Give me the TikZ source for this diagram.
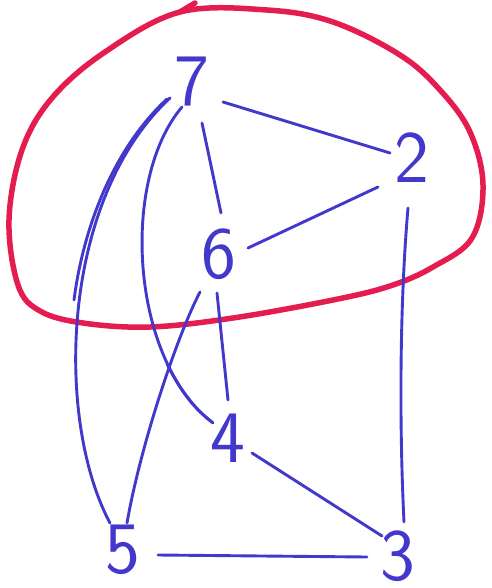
\documentclass[tikz,border=0pt]{standalone}
\definecolor{pen}{RGB}{66,56,204}
\definecolor{marker}{RGB}{228,28,80}
\begin{document}
\begin{tikzpicture}[x=1pt,y=-1pt,
  digit/.style={text=pen, font=\sffamily\fontsize{74}{74}\selectfont, inner sep=0pt},
  edge/.style={draw=pen, line width=2.9pt, line cap=round, line join=round},
  ring/.style={draw=marker, line width=5.5pt, line cap=round, line join=round}]
\useasboundingbox (0,0) rectangle (491,588);
% red loop
\draw[ring] plot[smooth cycle, tension=0.6] coordinates {
 (180,12) (267,10) (333,22) (400,55) (440,90) (470,132) (483,185) (472,238)
 (433,267) (390,286) (333,300) (233,318) (150,327) (83,323) (40,311)
 (18,285) (9,220) (22,150) (52,98) (105,52)};
\draw[ring] (180,12) -- (195,3);
% nodes
\node[digit] (d7) at (192,82) {7};
\node[digit] (d2) at (412,158) {2};
\node[digit] (d6) at (219,254) {6};
\node[digit] (d4) at (228,438) {4};
\node[digit] (d5) at (123,550) {5};
\node[digit] (d3) at (398,556) {3};
% edges
\draw[edge] ([shift={(31,20)}]d7.center) -- ([shift={(-22,-5)}]d2.center);
\draw[edge] ([shift={(10,41)}]d7.center) -- ([shift={(2,-41)}]d6.center);
\draw[edge] ([shift={(29,-6)}]d6.center) -- ([shift={(-34,29)}]d2.center);
\draw[edge] ([shift={(-4,50)}]d2.center) .. controls (400,300) and (399,420) .. ([shift={(6,-34)}]d3.center);
\draw[edge] ([shift={(-22,16)}]d7.center) .. controls (60,200) and (55,420) .. ([shift={(-13,-27)}]d5.center);
\draw[edge] ([shift={(-25,17)}]d7.center) .. controls (112,150) and (83,230) .. (74,300);
\draw[edge] ([shift={(-10,25)}]d7.center) .. controls (120,180) and (130,360) .. ([shift={(-15,-15)}]d4.center);
\draw[edge] (167,364) .. controls (182,394) and (196,410) .. ([shift={(-16,-16)}]d4.center);
\draw[edge] ([shift={(-19,38)}]d6.center) .. controls (176,338) and (140,448) .. ([shift={(4,-27)}]d5.center);
\draw[edge] ([shift={(-2,39)}]d6.center) -- ([shift={(0,-38)}]d4.center);
\draw[edge] ([shift={(24,15)}]d4.center) -- ([shift={(-16,-20)}]d3.center);
\draw[edge] ([shift={(35,5)}]d5.center) -- ([shift={(-31,1)}]d3.center);
\end{tikzpicture}
\end{document}
